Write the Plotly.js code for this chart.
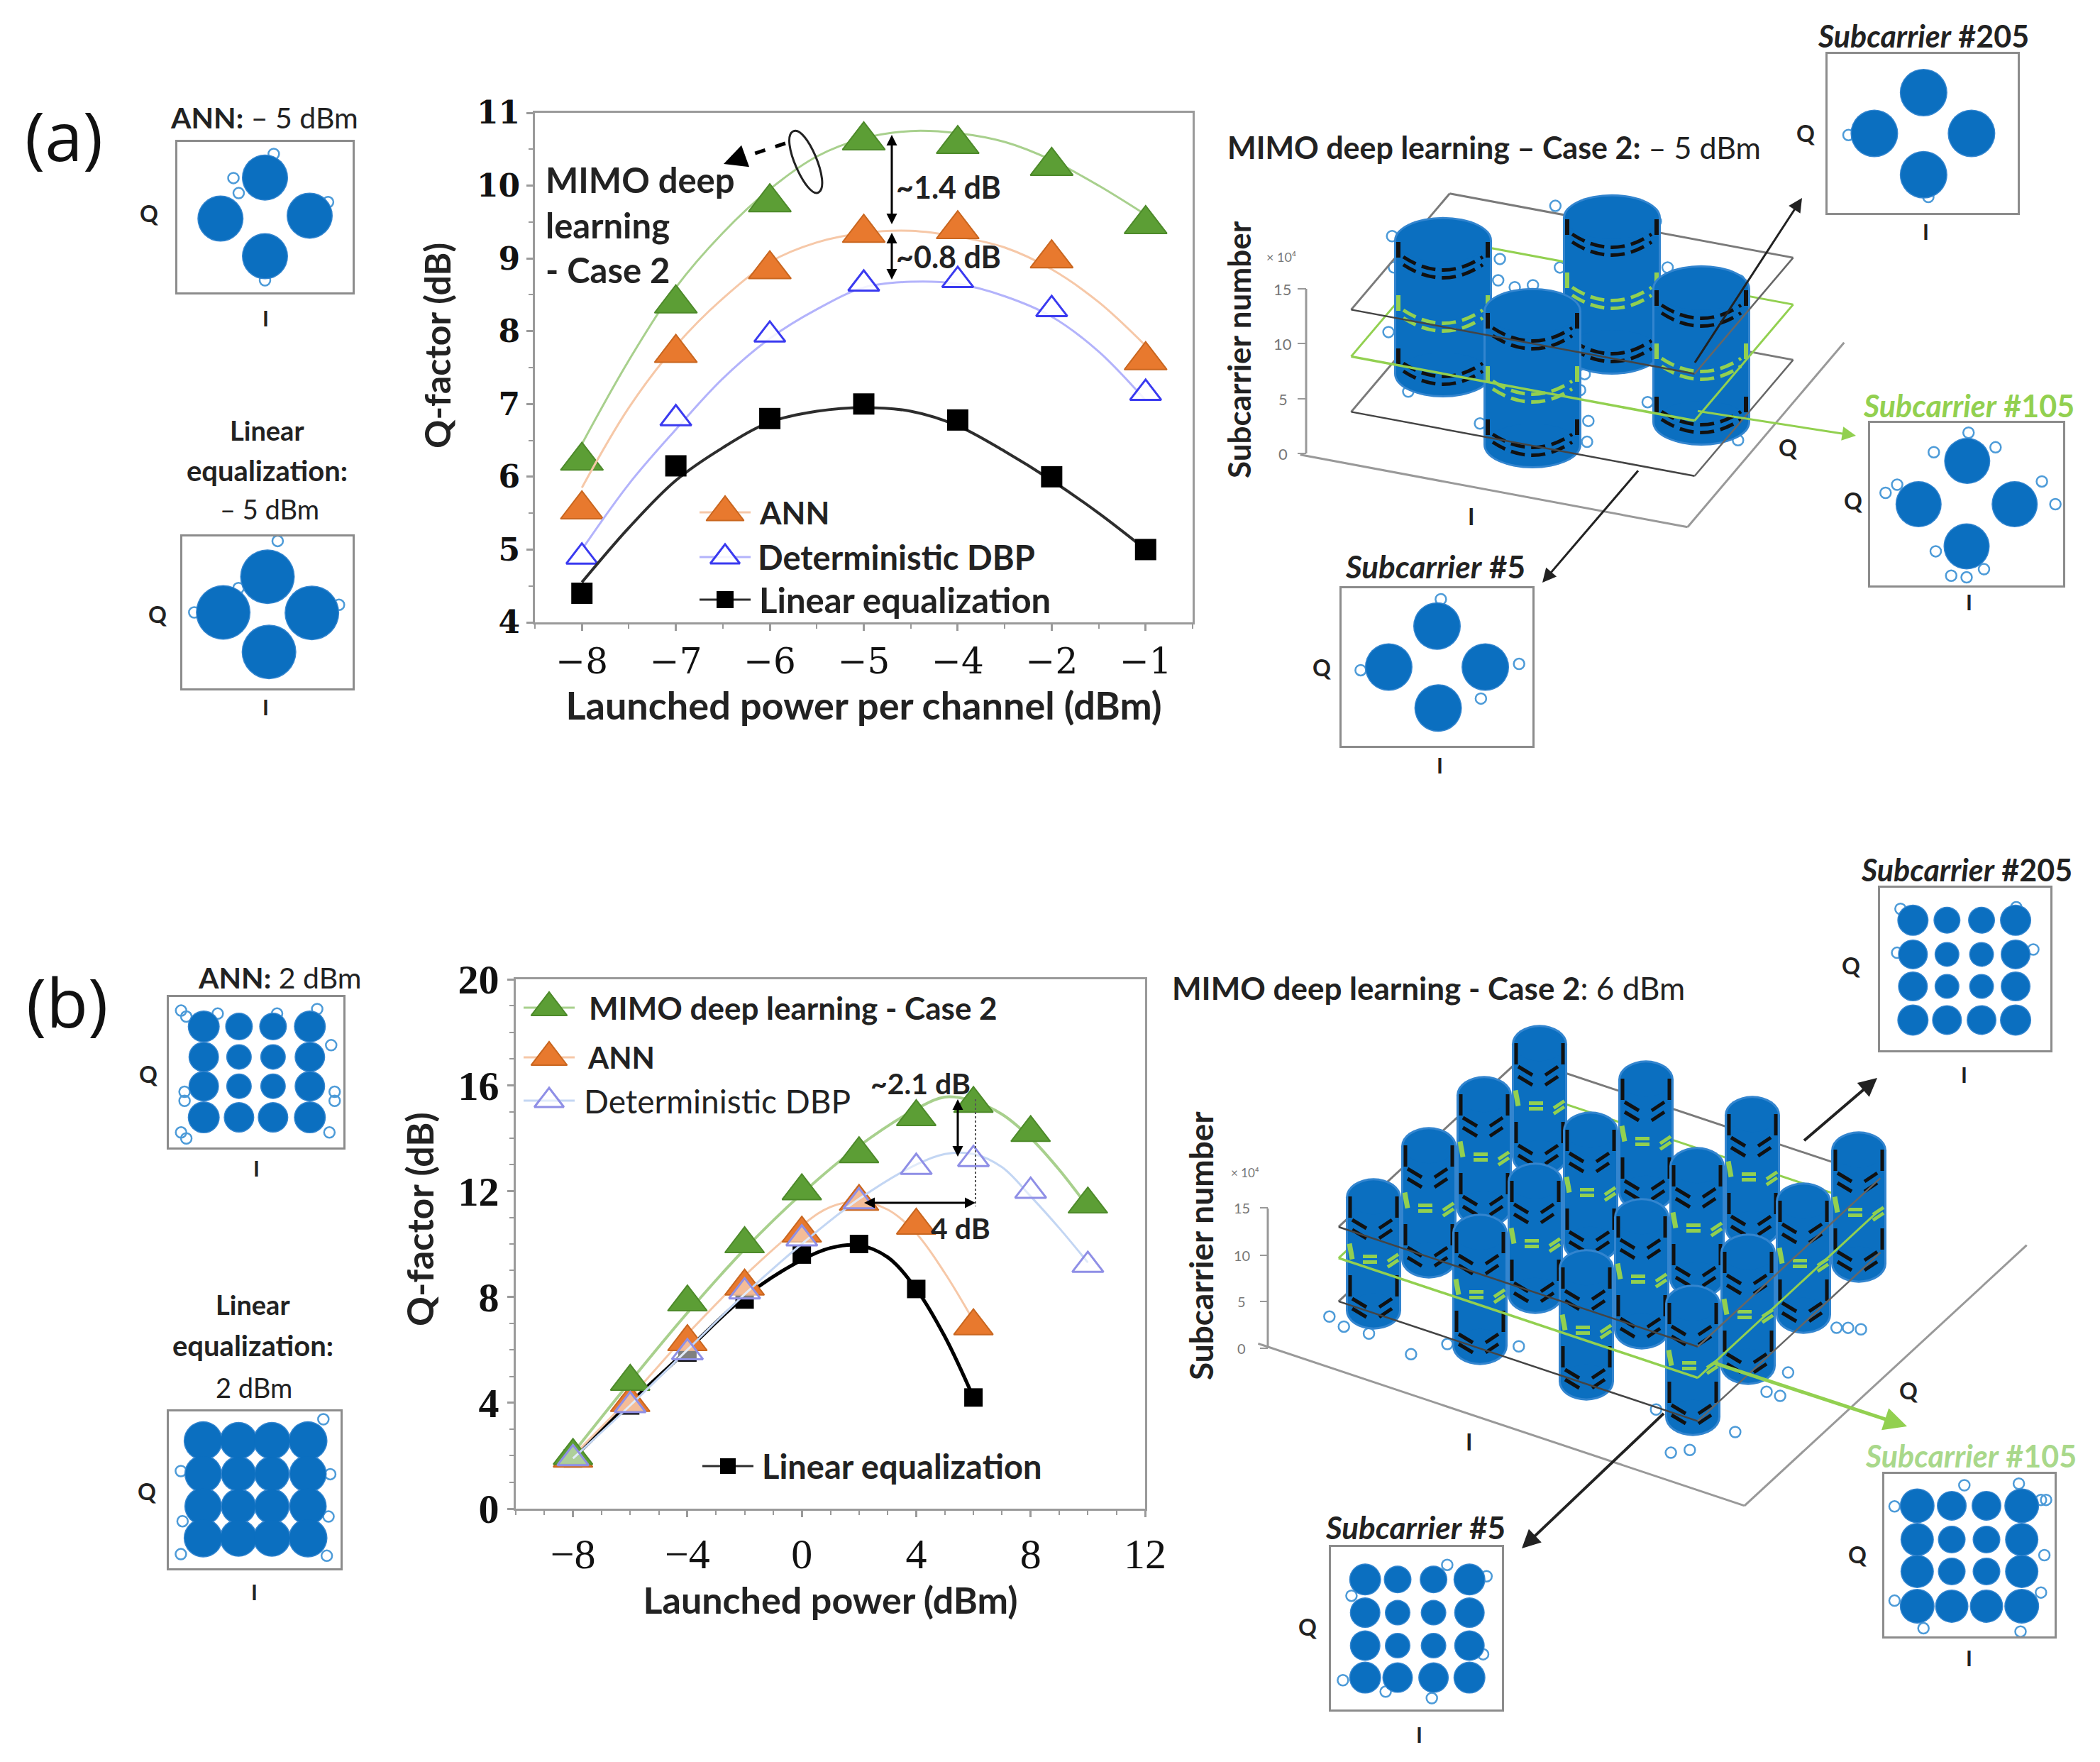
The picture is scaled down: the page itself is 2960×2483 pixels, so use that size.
<!DOCTYPE html>
<html><head><meta charset="utf-8">
<script src="https://cdn.plot.ly/plotly-3.0.1.min.js"></script>
<style>html,body{margin:0;padding:0;background:#fff;overflow:hidden}</style>
</head><body><div id="chart" style="width:2960px;height:2483px"></div>
<script>
// ---------- Panel (a) data ----------
const powerLabelsA = ["−8","−7","−6","−5","−4","−2","−1"];
const powerSlotsA  = [0,1,2,3,4,5,6];
const mimoA   = [6.22,8.38,9.77,10.62,10.57,10.27,9.47];
const annA    = [5.55,7.7,8.85,9.35,9.4,9.0,7.6];
const dbpA    = [4.9,6.8,7.95,8.65,8.7,8.3,7.15];
const linearA = [4.4,6.15,6.8,7.0,6.78,6.0,5.0];
const fitSlotsA = [0,0.5,1,1.5,2,2.5,3,3.5,4,4.5,5,5.5,6];
const mimoFitA   = [6.45,7.6,8.6,9.35,9.95,10.4,10.65,10.75,10.72,10.6,10.35,10.0,9.6];
const annFitA    = [5.85,6.95,7.8,8.45,8.95,9.22,9.35,9.38,9.3,9.15,8.85,8.4,7.8];
const dbpFitA    = [5.0,5.9,6.65,7.35,7.9,8.3,8.6,8.68,8.65,8.48,8.2,7.72,7.05];
const linearFitA = [4.55,5.3,5.95,6.4,6.75,6.9,6.95,6.9,6.7,6.35,5.95,5.5,5.0];
// ---------- Panel (b) data ----------
const powerB  = [-8,-6,-4,-2,0,2,4,6,8,10];
const mimoB   = [2.0,4.8,7.8,10.0,12.0,13.4,14.8,15.3,14.2,11.5];
const dbpB    = [1.9,3.9,5.9,8.2,10.2,11.6,12.9,13.2,12.0,9.2];
const powerB2 = [-8,-6,-4,-2,0,2,4,6];
const annB    = [1.9,4.0,6.3,8.4,10.4,11.6,10.7,6.9];
const linearB = [1.9,3.9,5.9,7.9,9.6,10.0,8.3,4.2];
const mimoFitX = [-8,-6,-4,-2,0,2,4,5,6,7,8,9,10];
const mimoFitB = [2.1,4.8,7.4,9.8,11.9,13.7,15.1,15.55,15.4,14.9,14.0,12.8,11.4];
const dbpFitX  = [-8,-6,-4,-2,0,2,4,5,6,7,8,9,10];
const dbpFitB  = [1.9,3.9,6.0,8.1,10.0,11.7,13.0,13.4,13.4,12.9,11.8,10.6,9.3];
const annFitX  = [-8,-6,-4,-2,0,1,2,3,4,5,6];
const annFitB  = [2.0,4.2,6.6,8.8,10.7,11.4,11.6,11.3,10.4,8.9,7.1];
const linFitX  = [-8,-6,-4,-2,0,1,2,3,4,5,6];
const linFitB  = [1.9,4.0,6.0,8.0,9.4,9.85,9.95,9.5,8.3,6.5,4.2];
// ---------- Constellation centres (normalised I, Q) ----------
const qAnnA = {i:[.5,.246,.755,.5], q:[.763,.49,.51,.24], oi:[.55,.32,.35,.86,.5], oq:[.92,.76,.66,.6,.08]};
const qLinA = {i:[.5,.24,.761,.509], q:[.735,.5,.497,.24], oi:[.56,.33,.6,.92,.07], oq:[.97,.66,.74,.55,.5]};
const q205A = {i:[.505,.246,.757,.505], q:[.757,.5,.5,.24], oi:[.11,.53], oq:[.49,.1]};
const q105A = {i:[.503,.251,.749,.5], q:[.766,.5,.5,.24], oi:[.51,.33,.65,.08,.14,.89,.96,.34,.5,.59,.42], oq:[.94,.82,.85,.57,.62,.64,.5,.21,.05,.1,.06]};
const q5A   = {i:[.5,.247,.753,.506], q:[.76,.5,.5,.24], oi:[.52,.1,.73,.93], oq:[.93,.48,.3,.52]};
function grid(cols, rows){ const o={i:[],q:[]}; rows.forEach(r=>cols.forEach(c=>{o.i.push(c);o.q.push(r)})); return o; }
const qamAnn = Object.assign(grid([.2,.402,.597,.808],[.804,.602,.407,.2]), {oi:[.07,.1,.28,.62,.85,.93,.95,.95,.09,.09,.07,.1,.92], oq:[.91,.87,.89,.89,.92,.68,.37,.31,.37,.31,.1,.06,.1]});
const qamLin = Object.assign(grid([.2,.406,.6,.81],[.813,.602,.395,.193]), {oi:[.07,.9,.93,.07,.92,.08,.94], oq:[.62,.95,.33,.09,.08,.3,.6]});
const qam205 = Object.assign(grid([.193,.393,.596,.796],[.8,.59,.393,.186]), {oi:[.12,.8,.1,.9], oq:[.87,.88,.6,.62]});
const qam105 = Object.assign(grid([.193,.396,.6,.807],[.804,.596,.4,.186]), {oi:[.47,.79,.92,.95,.06,.94,.06,.23,.8,.92], oq:[.93,.94,.84,.84,.8,.5,.22,.05,.03,.27]});
const qam5   = Object.assign(grid([.2,.39,.6,.81],[.8,.596,.393,.196]), {oi:[.68,.91,.12,.89,.07,.32,.59], oq:[.89,.82,.7,.34,.18,.11,.07]});
const sizesQ = (outer,inner)=>[outer,inner+3,inner+3,outer, outer-2,inner,inner,outer-2, outer-2,inner,inner,outer-2, outer,outer-2,outer-2,outer];
// ---------- 3-D stacks ----------
const levels = [5,105,205];
const stackA = {i:[0,-1,1,0], q:[1,0,0,-1]};
const stackBI = [-3,-1,1,3], stackBQ = [3,1,-1,-3];
const planeLevelsA = [196,108,4];
const planeLevelsB = [184,105,-5];
const strayA = {i:[-2.05,-1.86,-1.53,-1.06,-1.2,-1.09,-1.13,-.75,.02,.6,1.42,.42,.08,-.83,-.94,-.03,.52,-.37,.14,-.4,.31,1.36],
                q:[2.13,1.56,.35,-.68,2.08,1.68,3.25,2.13,.25,-.05,-.44,-.99,-.06,1.71,1.61,2.5,2.51,3.31,-1.5,-1.02,-.6,-.22]};
const strayB = {i:[-3.47,-3.12,-2.67,-1.78,-1.43,-.41,3.7,3.86,4.06,3.7,3.69,3.94,3.86,3.5,3.28,2.43],
                q:[-3.69,-3.84,-3.8,-3.99,-3.35,-2.73,.85,.96,1.04,-.9,-1.66,-1.65,-3.12,-4.07,-4.33,-3.23]};
const zTicks = ["15","10","5","0"];

// ---------- helpers ----------
const W=2960,H=2483, BLUE="#0b6fc0", RING="#4d9bd8", SOFT="#3385cf", GREEN3="#92d050", SANS="Lato, 'Open Sans', sans-serif", SERIF="'Liberation Serif', serif", WIDE="'DejaVu Serif', serif";
const traces=[], shapes=[], annotations=[];
const layout={width:W,height:H,margin:{l:0,r:0,t:0,b:0},paper_bgcolor:"#fff",plot_bgcolor:"rgba(0,0,0,0)",showlegend:false,shapes,annotations,
  xaxis:{domain:[0,1],range:[0,W],visible:false,fixedrange:true},
  yaxis:{domain:[0,1],range:[H,0],visible:false,fixedrange:true}};
function text(x,y,t,size,opts){ annotations.push(Object.assign({xref:"x",yref:"y",x,y,text:t,showarrow:false,font:{family:SANS,size,color:"#222"},xanchor:"center",yanchor:"middle"},opts||{})); }
function arrow(x0,y0,x1,y1,color,w,both){
  annotations.push({xref:"x",yref:"y",axref:"x",ayref:"y",x:x1,y:y1,ax:x0,ay:y0,text:" ",showarrow:true,arrowhead:2,arrowsize:both?1:1.3,arrowwidth:w,arrowcolor:color,startarrowhead:2,startarrowsize:1,arrowside:both?"end+start":"end",font:{size:2}});
}
function line(x0,y0,x1,y1,color,w,dash){ shapes.push({type:"line",xref:"x",yref:"y",x0,y0,x1,y1,line:{color,width:w,dash:dash||"solid"}}); }
let axN=2;
function addAxes(x0,x1,y0,y1,xo,yo){
  const n=++axN, xa="xaxis"+n, ya="yaxis"+n;
  layout[xa]=Object.assign({domain:[x0/W,x1/W],anchor:"y"+n},xo);
  layout[ya]=Object.assign({domain:[1-y1/H,1-y0/H],anchor:"x"+n},yo);
  return ["x"+n,"y"+n];
}
function panel(x0,x1,y0,y1,d,size){
  const base={range:[0,1],showline:true,mirror:true,linecolor:"#8c8c8c",linewidth:3,showgrid:false,zeroline:false,showticklabels:false,ticks:"",fixedrange:true};
  const [xa,ya]=addAxes(x0,x1,y0,y1,base,base);
  const soft=Array.isArray(size)?size.map(s=>s+3):size+3;
  traces.push({type:"scatter",mode:"markers",xaxis:xa,yaxis:ya,x:d.oi,y:d.oq,marker:{symbol:"circle-open",size:15,color:RING,opacity:1,line:{width:2.5,color:RING}},hoverinfo:"skip"});
  traces.push({type:"scatter",mode:"markers",xaxis:xa,yaxis:ya,x:d.i,y:d.q,marker:{symbol:"circle",size:soft,color:SOFT,opacity:1,line:{width:0}},hoverinfo:"skip"});
  traces.push({type:"scatter",mode:"markers",xaxis:xa,yaxis:ya,x:d.i,y:d.q,marker:{symbol:"circle",size,color:BLUE,opacity:1,line:{width:0}},hoverinfo:"skip"});
}
function series(xa,ya,fx,fy,lc,lw,px,py,m){
  traces.push({type:"scatter",mode:"lines",xaxis:xa,yaxis:ya,x:fx,y:fy,line:{color:lc,width:lw,shape:"spline",smoothing:1},hoverinfo:"skip"});
  traces.push({type:"scatter",mode:"markers",xaxis:xa,yaxis:ya,x:px,y:py,cliponaxis:false,marker:m,hoverinfo:"skip"});
}
const mGreen={symbol:"triangle-up",size:52,color:"#5c9e35",line:{color:"#4d8a2a",width:2}};
const mOrange={symbol:"triangle-up",size:52,color:"#e8792e",line:{color:"#c9661f",width:2}};
const mOpen={symbol:"triangle-up",size:38,color:"rgba(255,255,255,0.85)",line:{color:"#3a3af0",width:3}};
const mBlack={symbol:"square",size:30,color:"#000"};
const mOrangeB=Object.assign({},mOrange,{size:48});
const mGreenB=Object.assign({},mGreen,{size:48});
const mOpenB={symbol:"triangle-up",size:38,color:"rgba(255,255,255,0.5)",line:{color:"#8f8fe6",width:3}};
const mBlackB={symbol:"square",size:26,color:"#000"};

// ---------- main charts ----------
function axisStyle(o){ return Object.assign({showline:true,mirror:true,linecolor:"#9a9a9a",linewidth:3,showgrid:false,zeroline:false,ticks:"outside",ticklen:9,tickwidth:3,tickcolor:"#9a9a9a",fixedrange:true},o); }
const [xA,yA]=addAxes(754,1681,159,877,
  axisStyle({range:[-0.5,6.5],tickmode:"array",tickvals:powerSlotsA,ticktext:powerLabelsA,
    tickfont:{family:WIDE,size:50,color:"#111"},minor:{ticks:"outside",dtick:0.5,ticklen:6,tickcolor:"#9a9a9a",tickwidth:2},
    title:{text:"<b>Launched power per channel (dBm)</b>",font:{family:SANS,size:54,color:"#222"},standoff:4}}),
  axisStyle({range:[4,11],dtick:1,tickfont:{family:WIDE,size:44,color:"#111",weight:700},minor:{ticks:"outside",dtick:0.5,ticklen:6,tickcolor:"#9a9a9a",tickwidth:2}}));
series(xA,yA,fitSlotsA,mimoFitA,"#a8d08d",3,powerSlotsA,mimoA,mGreen);
series(xA,yA,fitSlotsA,annFitA,"#f6c8a8",3,powerSlotsA,annA,mOrange);
series(xA,yA,fitSlotsA,dbpFitA,"#b3b3fb",3,powerSlotsA,dbpA,mOpen);
series(xA,yA,fitSlotsA,linearFitA,"#2d2d2d",4,powerSlotsA,linearA,mBlack);

const [xB,yB]=addAxes(727,1614,1380,2126,
  axisStyle({range:[-10,12],dtick:4,tick0:-8,tickfont:{family:SERIF,size:60,color:"#111"},minor:{ticks:"outside",dtick:1,ticklen:6,tickcolor:"#9a9a9a",tickwidth:2},
    title:{text:"<b>Launched power (dBm)</b>",font:{family:SANS,size:52,color:"#222"},standoff:4}}),
  axisStyle({range:[0,20],dtick:4,tickfont:{family:SERIF,size:58,color:"#111",weight:700},minor:{ticks:"outside",dtick:1,ticklen:6,tickcolor:"#9a9a9a",tickwidth:2}}));
series(xB,yB,linFitX,linFitB,"#000",5,powerB2,linearB,mBlackB);
series(xB,yB,annFitX,annFitB,"#f6c8a8",3,powerB2,annB,mOrangeB);
series(xB,yB,mimoFitX,mimoFitB,"#a8d08d",4,powerB,mimoB,mGreenB);
series(xB,yB,dbpFitX,dbpFitB,"#c3d6f3",3,powerB,dbpB,mOpenB);
text(616,487,"<b>Q-factor (dB)</b>",50,{textangle:-90});
text(591,1718,"<b>Q-factor (dB)</b>",52,{textangle:-90});

// in-chart legends (marker keys)
function key(x,y,lc,lw,m,label,tx,size){
  traces.push({type:"scatter",mode:"lines",x:[x-36,x+36],y:[y,y],line:{color:lc,width:lw},hoverinfo:"skip"});
  traces.push({type:"scatter",mode:"markers",x:[x],y:[y],marker:m,hoverinfo:"skip"});
  text(tx,y,label,size,{xanchor:"left"});
}
key(1022,722,"#f6c8a8",3,Object.assign({},mOrange,{size:46}),"<b>ANN</b>",1068,44);
key(1022,785,"#b3b3fb",3,Object.assign({},mOpen,{size:36}),"<b>Deterministic DBP</b>",1066,47);
key(1022,845,"#2d2d2d",3,Object.assign({},mBlack,{size:24}),"<b>Linear equalization</b>",1068,49);
key(774,1420,"#a8d08d",3,Object.assign({},mGreen,{size:44}),"<b>MIMO deep learning - Case 2</b>",828,44);
key(774,1490,"#f6c8a8",3,Object.assign({},mOrange,{size:44}),"<b>ANN</b>",826,42);
key(774,1551,"#c3d6f3",3,Object.assign({},mOpenB,{size:36}),"Deterministic DBP",821,46);
key(1026,2066,"#2d2d2d",3,Object.assign({},mBlack,{size:22}),"<b>Linear equalization</b>",1072,47);

// chart (a) call-outs
text(767,253,"<b>MIMO deep</b>",49,{xanchor:"left"});
text(767,317,"<b>learning</b>",49,{xanchor:"left"});
text(767,380,"<b>- Case 2</b>",49,{xanchor:"left"});
shapes.push({type:"path",xref:"x",yref:"y",path:"M1118,185 C1098,195 1138,282 1154,271 C1172,260 1136,175 1118,185 Z",line:{color:"#222",width:3}});
line(1107,202,1040,224,"#000",5,"dash");
arrow(1045,222,1020,231,"#000",5);
arrow(1257,319,1257,190,"#000",3,true);
arrow(1257,397,1257,328,"#000",3,true);
text(1337,263,"<b>~1.4 dB</b>",43);
text(1337,361,"<b>~0.8 dB</b>",43);
// chart (b) call-outs
text(1297,1526,"<b>~2.1 dB</b>",41);
arrow(1350,1633,1350,1549,"#000",3,true);
line(1375,1549,1375,1700,"#555",2,"dot");
arrow(1216,1695,1375,1695,"#000",3,true);
text(1354,1730,"<b>4 dB</b>",41);

// ---------- constellations (a) ----------
panel(250,497,200,412,qAnnA,62);
panel(257,497,756,970,qLinA,74);
panel(2576,2844,76,300,q205A,64);
panel(2636,2908,596,825,q105A,62);
panel(1891,2160,829,1051,q5A,64);
// ---------- constellations (b) ----------
panel(238,484,1405,1617,qamAnn,sizesQ(42,33));
panel(238,480,1989,2210,qamLin,sizesQ(52,47));
panel(2650,2890,1251,1480,qam205,sizesQ(41,32));
panel(2656,2896,2077,2306,qam105,sizesQ(46,36));
panel(1876,2117,2180,2409,qam5,sizesQ(42,33));

// ---------- 3-D stacks via a fixed projection of (I, Q, subcarrier) ----------
function projector(p){ return (i,q,s)=>[p.cx+i*p.ux+q*p.vx, p.cy+i*p.uy+q*p.vy-(s-5)*p.sz]; }
function seg(a,b,color,w){ line(a[0],a[1],b[0],b[1],color,w); }
function body(P,i,q,hw,h,sTop,sBot){
  const t=P(i,q,sTop), b=P(i,q,sBot);
  [[SOFT,3],[BLUE,0]].forEach(([c,e])=>{
    shapes.push({type:"rect",xref:"x",yref:"y",x0:t[0]-hw-e,x1:t[0]+hw+e,y0:t[1],y1:b[1],fillcolor:c,line:{width:0}});
    [t,b].forEach(k=>shapes.push({type:"circle",xref:"x",yref:"y",x0:k[0]-hw-e,x1:k[0]+hw+e,y0:k[1]-h-e,y1:k[1]+h+e,fillcolor:c,line:{width:0}}));
  });
}
// QPSK stacks carry long dashed double rings
function ringsArc(P,i,q,hw){
  levels.forEach((s,k)=>{
    const c=P(i,q,s), col=k===1?GREEN3:"#111";
    [0,11].forEach(g=>shapes.push({type:"path",xref:"x",yref:"y",
      path:`M${c[0]-hw+10},${c[1]+g+3} Q${c[0]},${c[1]+g+40} ${c[0]+hw-10},${c[1]+g+3}`,line:{color:col,width:5,dash:"20px,9px"}}));
    [-1,1].forEach(sd=>line(c[0]+sd*(hw-3),c[1]-18,c[0]+sd*(hw-3),c[1]+4,col,6));
  });
}
// 16-QAM stacks carry short chevrons and green "=" marks
function ringsChevron(P,i,q,hw){
  levels.forEach((s,k)=>{
    const [x,y]=P(i,q,s);
    if(k===1){
      [-4,4].forEach(r=>line(x-15,y+r,x+5,y+r,GREEN3,5));
      [3,11].forEach(r=>line(x+20,y+r,x+35,y+r-10,GREEN3,5));
      line(x-34,y-22,x-30,y,GREEN3,7);
    } else {
      [0,14].forEach(r=>{ line(x-30,y+r,x-10,y+12+r,"#111",5); line(x+8,y+12+r,x+26,y+r,"#111",5); });
      [-1,1].forEach(sd=>line(x+sd*(hw-3),y-33,x+sd*(hw-3),y-3,"#111",5));
    }
  });
}
function stack3D(P,cols,ext,planes,hw,h,sTop,sBot,rings){
  const cols2=[["#7a7a7a"],[GREEN3],["#7a7a7a"]];
  const corners=s=>[P(ext.a0,ext.b0,s),P(ext.a1,ext.b0,s),P(ext.a1,ext.b1,s),P(ext.a0,ext.b1,s)];
  planes.forEach((s,n)=>{ const k=corners(s), c=cols2[n][0]; seg(k[0],k[3],c,3); seg(k[3],k[2],c,3); });
  cols.forEach(c=>{ body(P,c[0],c[1],hw,h,sTop,sBot); rings(P,c[0],c[1],hw); });
  planes.forEach((s,n)=>{ const k=corners(s), c=n===1?GREEN3:"#444";
    seg(k[0],k[1],c,n===1?3.5:2.5); seg(k[1],k[2],n===1?GREEN3:"#666",n===1?3:2.5); });
}
// panel (a) 3-D
const pA={cx:2216,cy:543,ux:182,uy:34,vx:56,vy:-66,sz:0.75};
const PA=projector(pA);
{ const f=[PA(-1.5,-1.97,-20),PA(1.5,-1.97,-20),PA(1.5,1.97,-20)];
  seg(f[0],f[1],"#999",3); seg(f[1],f[2],"#999",3);
  line(1841,407,1841,639,"#999",3);
  [407,484,562,639].forEach((y,k)=>{ line(1829,y,1841,y,"#999",2); text(1808,y,zTicks[k],22,{font:{family:SANS,size:22,color:"#777"}}); });
  text(1806,362,"× 10⁴",18,{font:{family:SANS,size:18,color:"#777"}});
  traces.push({type:"scatter",mode:"markers",x:strayA.i.map((v,k)=>PA(v,strayA.q[k],5)[0]),y:strayA.i.map((v,k)=>PA(v,strayA.q[k],5)[1]),marker:{symbol:"circle-open",size:15,color:RING,line:{width:2.5,color:RING}},hoverinfo:"skip"});
}
stack3D(PA,stackA.i.map((v,k)=>[v,stackA.q[k]]),{a0:-1.33,a1:1.33,b0:-1.24,b1:1.24},planeLevelsA,66,30,232,-19,ringsArc);
arrow(2387,514,2540,279,"#222",3);
arrow(2311,661,2174,821,"#222",3);
arrow(2391,579,2616,614,GREEN3,3);
text(2106,207,"<b>MIMO deep learning – Case 2:</b> – 5 dBm",43);
text(1746,493,"<b>Subcarrier number</b>",44,{textangle:-90});
text(2520,630,"<b>Q</b>",32);
text(2074,727,"<b>I</b>",32);

// panel (b) 3-D
const pB={cx:2278,cy:1797,ux:75,uy:25,vx:39,vy:-36,sz:0.555};
const PB=projector(pB);
{ const f=[PB(-4.05,-5.15,-17),PB(5.09,-5.15,-17),PB(5.09,5.05,-17)];
  seg(f[0],f[1],"#999",3); seg(f[1],f[2],"#999",3);
  line(1787,1703,1787,1900,"#999",3);
  [1702,1769,1834,1900].forEach((y,k)=>{ line(1776,y,1787,y,"#999",2); text(1750,y,zTicks[k],20,{font:{family:SANS,size:20,color:"#777"}}); });
  text(1755,1652,"× 10⁴",17,{font:{family:SANS,size:17,color:"#777"}});
  traces.push({type:"scatter",mode:"markers",x:strayB.i.map((v,k)=>PB(v,strayB.q[k],-17)[0]),y:strayB.i.map((v,k)=>PB(v,strayB.q[k],-17)[1]),marker:{symbol:"circle-open",size:15,color:RING,line:{width:2.5,color:RING}},hoverinfo:"skip"});
}
const colsB=[];
stackBQ.forEach(q=>stackBI.forEach(i=>colsB.push([i,q])));
stack3D(PB,colsB,{a0:-3.5,a1:3.25,b0:-3.3,b1:3.3},planeLevelsB,36,24,262,-25,ringsChevron);
arrow(2541,1609,2646,1519,"#222",4);
arrow(2347,1990,2145,2182,"#222",4);
arrow(2414,1920,2688,2010,GREEN3,5);
text(2013,1392,"<b>MIMO deep learning - Case 2</b>: 6 dBm",44);
text(1692,1756,"<b>Subcarrier number</b>",46,{textangle:-90});
text(2690,1959,"<b>Q</b>",32);
text(2071,2031,"<b>I</b>",32);

// ---------- panel labels ----------
text(90,189,"(a)",96,{font:{family:"'Open Sans', sans-serif",size:96,color:"#111"}});
text(94,1410,"(b)",96,{font:{family:"'Open Sans', sans-serif",size:96,color:"#111"}});
// constellation captions, (a)
text(372,165,"<b>ANN:</b> – 5 dBm",41);
text(376,606,"<b>Linear</b>",38); text(376,663,"<b>equalization:</b>",40); text(380,717,"– 5 dBm",38);
text(374,448,"<b>I</b>",30); text(210,300,"<b>Q</b>",32);
text(374,996,"<b>I</b>",30); text(222,865,"<b>Q</b>",32);
text(2711,50,"<b><i>Subcarrier</i> #205</b>",43); text(2714,326,"<b>I</b>",30); text(2545,187,"<b>Q</b>",32);
text(2775,571,"<b><i>Subcarrier</i> #105</b>",43,{font:{family:SANS,size:43,color:GREEN3}}); text(2775,848,"<b>I</b>",30); text(2612,705,"<b>Q</b>",32);
text(2023,798,"<b><i>Subcarrier</i> #5</b>",44); text(2029,1078,"<b>I</b>",30); text(1863,940,"<b>Q</b>",32);
// constellation captions, (b)
text(394,1377,"<b>ANN:</b> 2 dBm",41);
text(356,1838,"<b>Linear</b>",38); text(356,1896,"<b>equalization:</b>",40); text(358,1955,"2 dBm",38);
text(361,1646,"<b>I</b>",30); text(209,1513,"<b>Q</b>",32);
text(358,2243,"<b>I</b>",30); text(207,2101,"<b>Q</b>",32);
text(2772,1225,"<b><i>Subcarrier</i> #205</b>",43); text(2768,1514,"<b>I</b>",30); text(2609,1360,"<b>Q</b>",32);
text(2778,2051,"<b><i>Subcarrier</i> #105</b>",43,{font:{family:SANS,size:43,color:"#a9d88b"}}); text(2775,2336,"<b>I</b>",30); text(2618,2190,"<b>Q</b>",32);
text(1995,2152,"<b><i>Subcarrier</i> #5</b>",44); text(2000,2444,"<b>I</b>",30); text(1843,2292,"<b>Q</b>",32);

traces.unshift({type:"scatter",mode:"markers",x:[0],y:[0],marker:{size:1,opacity:0},hoverinfo:"skip"});
Plotly.newPlot("chart",traces,layout,{staticPlot:true,displayModeBar:false});
</script></body></html>
